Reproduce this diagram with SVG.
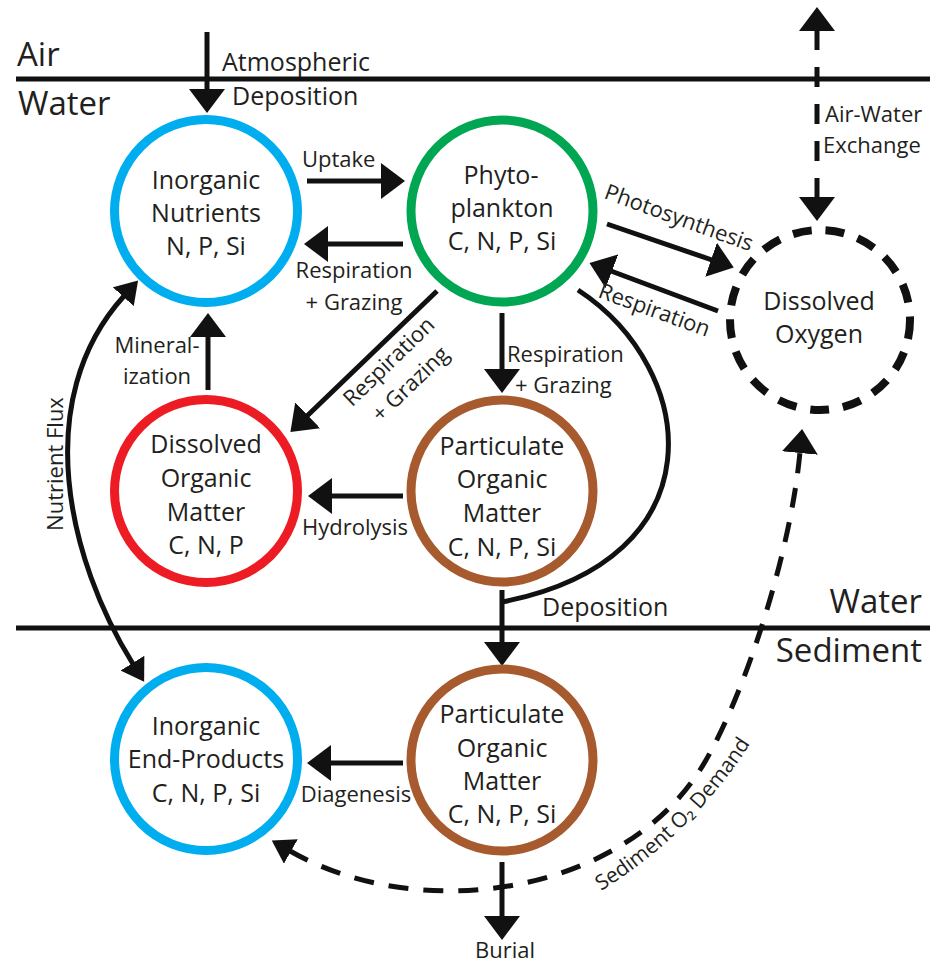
<svg xmlns="http://www.w3.org/2000/svg" width="930" height="965" viewBox="0 0 930 965">
<style>
text{font-family:"Open Sans","Liberation Sans",sans-serif;fill:#231f20}
.n{font-size:25px;text-anchor:middle}
.l{font-size:22px}
.l25{font-size:25px}
.m{text-anchor:middle}
.big{font-size:33px}
.ring{fill:none;stroke-width:9}
.ln{fill:none;stroke:#111;stroke-width:5}
.ar{fill:none;stroke:#111;stroke-width:5;marker-end:url(#ah)}
</style>
<defs>
<marker id="ah" viewBox="0 0 24 36" refX="1" refY="18" markerWidth="24" markerHeight="36" markerUnits="userSpaceOnUse" orient="auto-start-reverse"><path d="M0,0 L24,18 L0,36 z" fill="#111"/></marker>
<marker id="ahs" viewBox="0 0 22 28" refX="1" refY="14" markerWidth="22" markerHeight="28" markerUnits="userSpaceOnUse" orient="auto-start-reverse"><path d="M0,0 L22,14 L0,28 z" fill="#111"/></marker>
<path id="sodPath" d="M601,891 Q700,830 764,722"/>
</defs>
<rect width="930" height="965" fill="#fff"/>

<g id="boundaries">
<line class="ln" x1="16" y1="79" x2="930" y2="79"/>
<line class="ln" x1="16" y1="628" x2="930" y2="628"/>
<text class="big" x="17" y="66">Air</text>
<text class="big" x="18" y="115">Water</text>
<text class="big" x="922" y="613" text-anchor="end">Water</text>
<text class="big" x="922" y="662" text-anchor="end">Sediment</text>
</g>

<g id="connectors">
<!-- atmospheric deposition -->
<path class="ar" d="M207,32 L207,90"/>
<text class="l25" x="222" y="71">Atmospheric</text>
<text class="l25" x="232" y="105">Deposition</text>
<!-- uptake -->
<path class="ar" d="M307,181 L382,181"/>
<text class="l" x="302" y="167">Uptake</text>
<!-- respiration + grazing to nutrients -->
<path class="ar" d="M403,244 L327,244"/>
<text class="l m" x="354" y="278">Respiration</text>
<text class="l m" x="354" y="310">+ Grazing</text>
<!-- photosynthesis -->
<path class="ar" d="M607,224 L712,260"/>
<text class="l" transform="translate(603,198) rotate(20)">Photosynthesis</text>
<!-- respiration DO -> phyto -->
<path class="ar" d="M718,311 L611,271"/>
<text class="l" transform="translate(597,297) rotate(20)">Respiration</text>
<!-- diagonal respiration + grazing -->
<path class="ar" d="M437,291 L307,416"/>
<g transform="translate(394,367) rotate(-44)">
<text class="l m" x="0" y="0">Respiration</text>
<text class="l m" x="0" y="31">+ Grazing</text>
</g>
<!-- vertical respiration + grazing -->
<path class="ar" d="M502,313 L502,370"/>
<text class="l" x="507" y="362">Respiration</text>
<text class="l" x="515" y="393">+ Grazing</text>
<!-- mineralization -->
<path class="ar" d="M208,390 L208,336"/>
<text class="l m" x="157" y="353">Mineral-</text>
<text class="l m" x="157" y="384">ization</text>
<!-- hydrolysis -->
<path class="ar" d="M403,496 L331,496"/>
<text class="l m" x="355" y="535">Hydrolysis</text>
<!-- nutrient flux -->
<path d="M124,296 C30,400 68,560 133,664" fill="none" stroke="#111" stroke-width="5" marker-start="url(#ahs)" marker-end="url(#ahs)"/>
<text class="l m" transform="translate(63,464) rotate(-90)">Nutrient Flux</text>
<!-- deposition -->
<path class="ln" d="M578,290 C700,370 720,560 502,602"/>
<path class="ar" d="M502,590 L502,643"/>
<text class="l25" x="542" y="616">Deposition</text>
<!-- diagenesis -->
<path class="ar" d="M403,763 L330,763"/>
<text class="l m" x="356" y="802">Diagenesis</text>
<!-- burial -->
<path class="ar" d="M502,862 L502,917"/>
<text class="l m" x="505" y="958">Burial</text>
<!-- air-water exchange -->
<path d="M817,30 L817,198" fill="none" stroke="#111" stroke-width="5" stroke-dasharray="20 17" marker-start="url(#ah)" marker-end="url(#ah)"/>
<text class="l" x="825" y="122">Air-Water</text>
<text class="l" x="823" y="153">Exchange</text>
<!-- sediment O2 demand -->
<path d="M290,851 C420,925 620,895 700,770 C740,707 790,560 800,452" fill="none" stroke="#111" stroke-width="5" stroke-dasharray="20 15" marker-start="url(#ahs)" marker-end="url(#ah)"/>
<text style="font-size:21px"><textPath href="#sodPath">Sediment O₂ Demand</textPath></text>
</g>

<g id="inorganic-nutrients">
<circle class="ring" cx="206" cy="211" r="91.5" stroke="#00AEEF"/>
<text class="n" x="206" y="189">Inorganic</text>
<text class="n" x="206" y="222">Nutrients</text>
<text class="n" x="206" y="255">N, P, Si</text>
</g>

<g id="phytoplankton">
<circle class="ring" cx="502" cy="211" r="91" stroke="#00A651"/>
<text class="n" x="501" y="184">Phyto-</text>
<text class="n" x="502" y="217">plankton</text>
<text class="n" x="502" y="250">C, N, P, Si</text>
</g>

<g id="dissolved-oxygen">
<circle cx="820" cy="320" r="90" fill="none" stroke="#111" stroke-width="8" stroke-dasharray="19 14"/>
<text class="n" x="819" y="310">Dissolved</text>
<text class="n" x="819" y="343">Oxygen</text>
</g>

<g id="dissolved-organic-matter">
<circle class="ring" cx="206" cy="491" r="91.5" stroke="#ED1C24"/>
<text class="n" x="206" y="453">Dissolved</text>
<text class="n" x="206" y="487">Organic</text>
<text class="n" x="206" y="521">Matter</text>
<text class="n" x="206" y="554">C, N, P</text>
</g>

<g id="particulate-organic-matter-water">
<circle class="ring" cx="502" cy="491" r="91" stroke="#A65A2E"/>
<text class="n" x="502" y="455">Particulate</text>
<text class="n" x="502" y="488">Organic</text>
<text class="n" x="502" y="522">Matter</text>
<text class="n" x="502" y="556">C, N, P, Si</text>
</g>

<g id="particulate-organic-matter-sediment">
<circle class="ring" cx="502" cy="760" r="91" stroke="#A65A2E"/>
<text class="n" x="502" y="723">Particulate</text>
<text class="n" x="502" y="757">Organic</text>
<text class="n" x="502" y="790">Matter</text>
<text class="n" x="502" y="823">C, N, P, Si</text>
</g>

<g id="inorganic-end-products">
<circle class="ring" cx="206" cy="759" r="91.5" stroke="#00AEEF"/>
<text class="n" x="206" y="735">Inorganic</text>
<text class="n" x="206" y="768">End-Products</text>
<text class="n" x="206" y="802">C, N, P, Si</text>
</g>
</svg>
